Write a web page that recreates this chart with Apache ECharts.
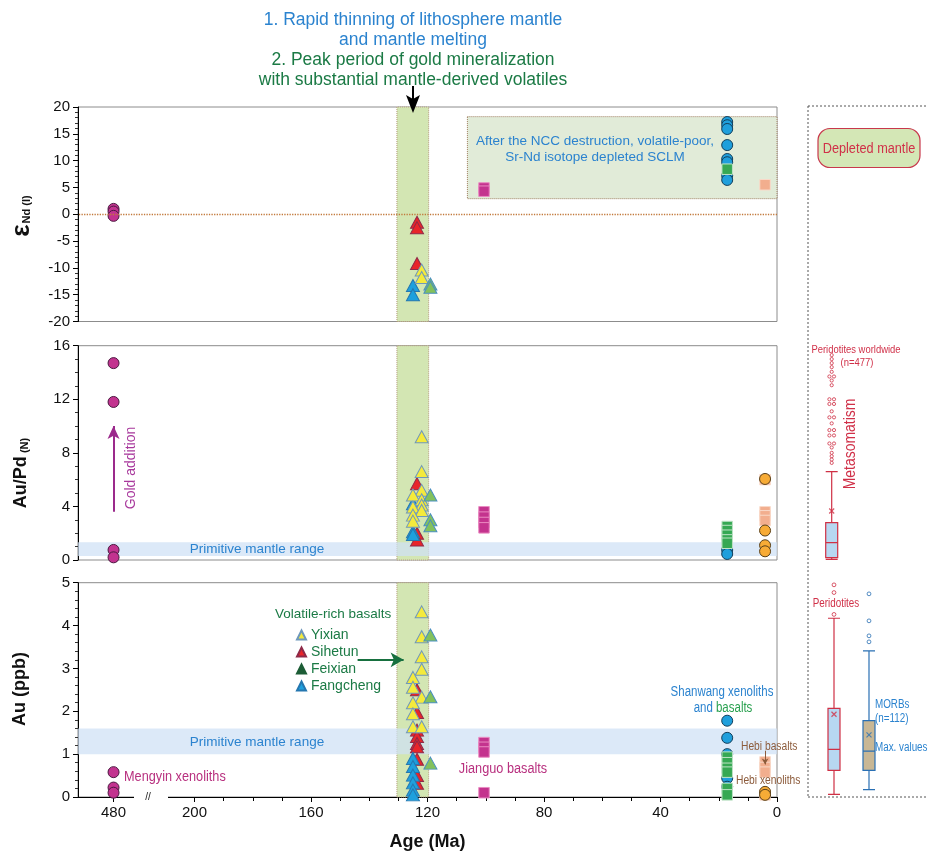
<!DOCTYPE html>
<html><head><meta charset="utf-8">
<script src="https://cdn.jsdelivr.net/npm/echarts@6/dist/echarts.min.js"></script>
<style>html,body{margin:0;padding:0;background:#fff}#c{width:928px;height:853px}</style>
</head><body><div id="c"></div>
<script>
// ---------------- DATA ----------------
const ageTicks = [0, 40, 80, 120, 160, 200, 480];
const ageMinorTicks = [10, 20, 30, 50, 60, 70, 90, 100, 110, 130, 140, 150, 170, 180, 190];
const AGE_MENGYIN = 480, AGE_JIANGUO = 100.6, AGE_SHANWANG = 17.1, AGE_HEBI = 4.1;
const peakPeriod = [130.5, 119.6];          // Ma, green band
const nccBox = { ageFrom: 106.3, ageTo: 0, ndFrom: 2.9, ndTo: 18.2 };
const pmAuPd = [0.3, 1.32];                 // primitive mantle range Au/Pd(N)
const pmAu = [1.0, 1.6];                    // primitive mantle range Au ppb

// eNd(I)
const mengyinNd = [1.0, 0.5, -0.3];
const jianguoNd = [4.9, 4.3];
const shanwangBasaltNd = [8.4];
const shanwangXenoNd = [17.2, 16.6, 15.9, 12.9, 10.3, 9.7, 7.2, 6.4];
const hebiBasaltNd = [5.5];
const hebiXenoNd = [];
const sihetunNd = [[123.6, -1.5], [123.6, -2.5], [123.6, -9.2]];
const fangchengNd = [[125, -13.3], [125, -15.0]];
const yixianNd = [[122, -10.4], [122, -11.8]];
const feixianNd = [[119, -13.0], [119, -13.6]];

// Au/Pd(N)
const mengyinAuPd = [14.7, 11.8, 0.75, 0.2];
const jianguoAuPd = [3.6, 3.2, 2.8, 2.4];
const shanwangBasaltAuPd = [2.5, 2.2, 1.85, 1.5, 1.25];
const shanwangXenoAuPd = [0.75, 0.45];
const hebiBasaltAuPd = [6.0, 3.6, 3.3, 2.95];
const hebiXenoAuPd = [6.05, 2.2, 1.1, 0.65];
const sihetunAuPd = [[123.6, 5.7], [123.6, 2.0], [123.6, 1.5]];
const fangchengAuPd = [[125, 4.2], [125, 2.1], [125, 1.9]];
const yixianAuPd = [[122, 9.2], [122, 6.6], [122, 5.2], [125, 4.85], [122, 4.5], [122, 4.1], [125, 3.95], [122, 3.7], [125, 3.35], [125, 2.9]];
const feixianAuPd = [[119, 4.85], [119, 3.0], [119, 2.55]];

// Au ppb
const mengyinAu = [0.58, 0.22, 0.1];
const jianguoAu = [1.27, 1.16, 1.05, 0.1];
const shanwangBasaltAu = [0.93, 0.8, 0.67, 0.58, 0.2, 0.05];
const shanwangXenoAu = [1.78, 1.38, 1.0, 0.44, 0.24];
const hebiBasaltAu = [0.82, 0.69, 0.58, 0.05];
const hebiXenoAu = [0.12, 0.05];
const sihetunAu = [[123.6, 2.5], [123.6, 1.97], [123.6, 1.56], [123.6, 1.41], [123.6, 1.25], [123.6, 1.17], [123.6, 0.88], [123.6, 0.5], [123.6, 0.32]];
const fangchengAu = [[125, 0.9], [125, 0.71], [125, 0.51], [125, 0.33], [125, 0.16], [125, 0.05]];
const yixianAu = [[122, 4.32], [122, 3.74], [122, 3.27], [122, 2.98], [125, 2.79], [125, 2.56], [122, 2.33], [125, 2.2], [125, 1.94], [125, 1.64], [122, 1.64]];
const feixianAu = [[119, 3.78], [119, 2.34], [119, 0.79]];

// Box plots: [min, Q1, median, Q3, max], mean, outliers
const periAuPdBox = [0.05, 0.17, 1.29, 2.79, 6.6];
const periAuPdMean = 3.66;
const periAuPdOutliers = [15.3, 15.0, 14.7, 14.4, 14.05, 13.4, 13.05, 11.1, 10.2, 8.4, 8.0, 7.75, 7.5, 7.25];
const periAuPdOutlierPairs = [13.7, 12.0, 11.65, 10.65, 9.7, 9.3, 8.7];
const periAuBox = [0.06, 0.62, 1.11, 2.07, 4.17];
const periAuMean = 1.93;
const periAuOutliers = [4.95, 4.77, 4.26];
const morbAuBox = [0.17, 0.62, 1.07, 1.78, 3.41];
const morbAuMean = 1.45;
const morbAuOutliers = [4.74, 4.11, 3.76, 3.62];

// -------------- helpers --------------
const BREAK_SHIFT = 252.2;           // broken age axis: 480 Ma drawn left of the break
const ax = a => (a > 300 ? a - BREAK_SHIFT : a);
const F = '"Liberation Sans", Arial, Helvetica, sans-serif';
const NARROW = 0.82;                 // horizontal squeeze to mimic a narrow face

const C = {
  mengyin: ['#c2338f', '#4a1840'],
  jianguo: ['#c4338e', '#ea8cc2'],
  swBasalt: ['#36a853', '#bfe3c6'],
  swXeno: ['#1f9fdc', '#123e5a'],
  hebiBasalt: ['#f2ae8e', '#f9d9c8'],
  hebiXeno: ['#f7ab36', '#5a4018'],
  sihetun: ['#e8252a', '#8e2a48'],
  fangcheng: ['#1ea0dd', '#2577b0'],
  yixian: ['#f4ea3c', '#6f98bb'],
  feixian: ['#83c15c', '#4a8fc0']
};

const GRIDS = [
  { left: 78, width: 699, top: 107, height: 214.5 },
  { left: 78, width: 699, top: 345.7, height: 214.3 },
  { left: 78, width: 699, top: 582.7, height: 214.3 }
];

function fixed(age, vals) { return vals.map(v => [ax(age), v]); }
function pairs(arr) { return arr.map(p => [ax(p[0]), p[1]]); }

function sc(name, gi, data, symbol, size, col, z) {
  return {
    type: 'scatter', name, xAxisIndex: gi, yAxisIndex: gi, data, symbol, symbolSize: size,
    itemStyle: { color: col[0], borderColor: col[1], borderWidth: 1, opacity: 1 },
    z: z || 3, silent: true
  };
}

const TRI = [13, 12];
function panelSeries(gi, d) {
  return [
    sc('Mengyin', gi, fixed(AGE_MENGYIN, d.mengyin), 'circle', 11, C.mengyin),
    sc('Jianguo', gi, fixed(AGE_JIANGUO, d.jianguo), 'rect', 10.5, C.jianguo),
    sc('Hebi basalts', gi, fixed(AGE_HEBI, d.hebiBasalt), 'rect', 10.5, C.hebiBasalt),
    sc('Shanwang basalts', gi, fixed(AGE_SHANWANG, d.swBasalt), 'rect', 10.5, C.swBasalt, 4),
    sc('Shanwang xenoliths', gi, fixed(AGE_SHANWANG, d.swXeno), 'circle', 11, C.swXeno, 3),
    sc('Hebi xenoliths', gi, fixed(AGE_HEBI, d.hebiXeno), 'circle', 11, C.hebiXeno, 4),
    sc('Sihetun', gi, pairs(d.sihetun), 'triangle', TRI, C.sihetun, 4),
    sc('Fangcheng', gi, pairs(d.fangcheng), 'triangle', TRI, C.fangcheng, 5),
    sc('Yixian', gi, pairs(d.yixian), 'triangle', TRI, C.yixian, 6),
    sc('Feixian', gi, pairs(d.feixian), 'triangle', TRI, C.feixian, 7)
  ];
}

const greenBand = [{ xAxis: peakPeriod[0], itemStyle: { color: '#d3e6b3', borderColor: '#b39a7c', borderWidth: 1, borderType: 'dotted' } }, { xAxis: peakPeriod[1] }];

function bandSeries(gi, areas, lines) {
  const s = { type: 'scatter', xAxisIndex: gi, yAxisIndex: gi, data: [], z: 1, silent: true,
    markArea: { silent: true, data: areas } };
  if (lines) s.markLine = lines;
  return s;
}

const series = [
  bandSeries(0, [greenBand,
    [{ xAxis: nccBox.ageFrom, yAxis: nccBox.ndTo, itemStyle: { color: '#e1ebd8', borderColor: '#9c7d5e', borderWidth: 1, borderType: 'dotted' } }, { xAxis: nccBox.ageTo, yAxis: nccBox.ndFrom }]
  ], { silent: true, symbol: 'none', label: { show: false },
       lineStyle: { color: '#c27a3c', type: 'dotted', width: 1.3 }, data: [{ yAxis: 0 }] }),
  bandSeries(1, [greenBand,
    [{ yAxis: pmAuPd[1], itemStyle: { color: 'rgba(206,225,245,0.72)' } }, { yAxis: pmAuPd[0] }]
  ], { silent: true, label: { show: false }, symbol: ['none', 'arrow'], symbolSize: [9, 13],
       lineStyle: { color: '#9b2a8c', width: 2, type: 'solid' },
       data: [[{ coord: [ax(AGE_MENGYIN), 3.6] }, { coord: [ax(AGE_MENGYIN), 10.0] }]] }),
  bandSeries(2, [greenBand,
    [{ yAxis: pmAu[1], itemStyle: { color: 'rgba(206,225,245,0.72)' } }, { yAxis: pmAu[0] }]
  ], { silent: true, label: { show: false }, symbol: ['none', 'arrow'], symbolSize: [11, 13],
       data: [
         [{ coord: [144, 3.2], lineStyle: { color: '#17703f', width: 2.2, type: 'solid' } }, { coord: [128.2, 3.2] }],
         [{ coord: [ax(AGE_HEBI), 1.08], lineStyle: { color: '#8c5b3b', width: 1, type: 'solid' }, symbolSize: [5, 6] }, { coord: [ax(AGE_HEBI), 0.76], symbolSize: [5, 6] }]
       ] })
].concat(
  panelSeries(0, { mengyin: mengyinNd, jianguo: jianguoNd, swBasalt: shanwangBasaltNd, swXeno: shanwangXenoNd, hebiBasalt: hebiBasaltNd, hebiXeno: hebiXenoNd, sihetun: sihetunNd, fangcheng: fangchengNd, yixian: yixianNd, feixian: feixianNd }),
  panelSeries(1, { mengyin: mengyinAuPd, jianguo: jianguoAuPd, swBasalt: shanwangBasaltAuPd, swXeno: shanwangXenoAuPd, hebiBasalt: hebiBasaltAuPd, hebiXeno: hebiXenoAuPd, sihetun: sihetunAuPd, fangcheng: fangchengAuPd, yixian: yixianAuPd, feixian: feixianAuPd }),
  panelSeries(2, { mengyin: mengyinAu, jianguo: jianguoAu, swBasalt: shanwangBasaltAu, swXeno: shanwangXenoAu, hebiBasalt: hebiBasaltAu, hebiXeno: hebiXenoAu, sihetun: sihetunAu, fangcheng: fangchengAu, yixian: yixianAu, feixian: feixianAu })
);

// box plots
const RED = '#cf3045', BLUE = '#2a70b4';
const crossPath = 'path://M0,0L10,10M10,0L0,10';
series.push(
  { type: 'boxplot', xAxisIndex: 4, yAxisIndex: 3, boxWidth: [12, 12], silent: true, z: 3,
    data: [{ value: periAuPdBox, itemStyle: { color: '#b7d7f1', borderColor: RED, borderWidth: 1.2 } }] },
  { type: 'scatter', xAxisIndex: 4, yAxisIndex: 3, symbol: 'circle', symbolSize: 3.2, silent: true, z: 4,
    itemStyle: { color: '#fff', borderColor: RED, borderWidth: 1 }, data: periAuPdOutliers.map(v => [0, v]) },
  { type: 'scatter', xAxisIndex: 4, yAxisIndex: 3, symbol: 'circle', symbolSize: 3.2, symbolOffset: [-2.3, 0], silent: true, z: 4,
    itemStyle: { color: '#fff', borderColor: RED, borderWidth: 1 }, data: periAuPdOutlierPairs.map(v => [0, v]) },
  { type: 'scatter', xAxisIndex: 4, yAxisIndex: 3, symbol: 'circle', symbolSize: 3.2, symbolOffset: [2.3, 0], silent: true, z: 4,
    itemStyle: { color: '#fff', borderColor: RED, borderWidth: 1 }, data: periAuPdOutlierPairs.map(v => [0, v]) },
  { type: 'scatter', xAxisIndex: 4, yAxisIndex: 3, symbol: crossPath, symbolSize: 5, silent: true, z: 5,
    itemStyle: { color: 'rgba(0,0,0,0)', borderColor: RED, borderWidth: 1.2 }, data: [[0, periAuPdMean]] },
  { type: 'boxplot', xAxisIndex: 5, yAxisIndex: 4, boxWidth: [11, 12], silent: true, z: 3,
    data: [
      { value: periAuBox, itemStyle: { color: '#b7d7f1', borderColor: RED, borderWidth: 1.2 } },
      { value: morbAuBox, itemStyle: { color: '#c8b795', borderColor: BLUE, borderWidth: 1.2 } }
    ] },
  { type: 'scatter', xAxisIndex: 5, yAxisIndex: 4, symbol: 'circle', symbolSize: 3.8, silent: true, z: 4,
    itemStyle: { color: '#fff', borderColor: RED, borderWidth: 1 }, data: periAuOutliers.map(v => [0, v]) },
  { type: 'scatter', xAxisIndex: 5, yAxisIndex: 4, symbol: 'circle', symbolSize: 3.8, silent: true, z: 4,
    itemStyle: { color: '#fff', borderColor: BLUE, borderWidth: 1 }, data: morbAuOutliers.map(v => [1, v]) },
  { type: 'scatter', xAxisIndex: 5, yAxisIndex: 4, symbol: crossPath, symbolSize: 5, silent: true, z: 5,
    itemStyle: { color: 'rgba(0,0,0,0)', borderColor: RED, borderWidth: 1.2 }, data: [[0, periAuMean]] },
  { type: 'scatter', xAxisIndex: 5, yAxisIndex: 4, symbol: crossPath, symbolSize: 5, silent: true, z: 5,
    itemStyle: { color: 'rgba(0,0,0,0)', borderColor: BLUE, borderWidth: 1.2 }, data: [[1, morbAuMean]] }
);

// -------------- axes --------------
function hiddenX(gi) {
  return { type: 'value', gridIndex: gi, min: 0, max: 240, inverse: true,
    axisLine: { show: false }, axisTick: { show: false }, axisLabel: { show: false }, splitLine: { show: false } };
}
const xAxes = [
  hiddenX(0), hiddenX(1),
  { type: 'value', gridIndex: 2, min: 0, max: 240, inverse: true,
    axisLine: { show: true, onZero: false, lineStyle: { color: '#000', width: 1 } },
    axisTick: { show: true, customValues: ageTicks.map(ax), length: 5, lineStyle: { color: '#000' } },
    axisLabel: { customValues: ageTicks.map(ax), fontSize: 15, color: '#111', fontFamily: F, margin: 8,
      formatter: v => (v > 210 ? String(Math.round(v + BREAK_SHIFT)) : String(Math.round(v))) },
    splitLine: { show: false },
    name: 'Age (Ma)', nameLocation: 'middle', nameGap: 36,
    nameTextStyle: { fontSize: 18, fontWeight: 'bold', color: '#111', fontFamily: F } },
  { type: 'value', gridIndex: 2, min: 0, max: 240, inverse: true,
    axisLine: { show: false }, axisLabel: { show: false }, splitLine: { show: false },
    axisTick: { show: true, inside: true, customValues: ageMinorTicks, length: 4, lineStyle: { color: '#000' } } },
  { type: 'category', gridIndex: 3, data: ['Peridotites worldwide'], show: false },
  { type: 'category', gridIndex: 4, data: ['Peridotites', 'MORBs'], show: false }
];
function yAx(gi, min, max, interval, split) {
  return { type: 'value', gridIndex: gi, min, max, interval,
    axisLine: { show: true, onZero: false, lineStyle: { color: '#000', width: 1 } },
    axisTick: { show: true, length: 5, lineStyle: { color: '#000' } },
    minorTick: { show: true, splitNumber: split, length: 3, lineStyle: { color: '#333' } },
    axisLabel: { fontSize: 15, color: '#111', fontFamily: F, margin: 8 },
    splitLine: { show: false } };
}
const yAxes = [
  yAx(0, -20, 20, 5, 5), yAx(1, 0, 16, 4, 4), yAx(2, 0, 5, 1, 5),
  { type: 'value', gridIndex: 3, min: 0, max: 16, show: false, splitLine: { show: false } },
  { type: 'value', gridIndex: 4, min: 0, max: 5, show: false, splitLine: { show: false } }
];

// -------------- annotations --------------
function txt(x, y, text, o) {
  o = o || {};
  const sx = o.narrow ? NARROW : 1;
  return { type: 'text', x, y, z: 100, rotation: o.rot || 0, scaleX: sx, silent: true,
    style: Object.assign({ text, align: 'center', verticalAlign: 'middle', fontFamily: F, fontSize: 14, fill: '#000' }, o.style) };
}
const BLUE_T = '#2b83cf', GREEN_T = '#1b7a45', MAG_T = '#b8307f', BROWN_T = '#8c5b3b', RED_T = '#d03048';
const graphics = [
  txt(413, 20, '1. Rapid thinning of lithosphere mantle', { style: { fontSize: 17.5, fill: BLUE_T } }),
  txt(413, 40, 'and mantle melting', { style: { fontSize: 17.5, fill: BLUE_T } }),
  txt(413, 60, '2. Peak period of gold mineralization', { style: { fontSize: 17.5, fill: GREEN_T } }),
  txt(413, 80, 'with substantial mantle-derived volatiles', { style: { fontSize: 17.5, fill: GREEN_T } }),
  { type: 'line', z: 100, silent: true, shape: { x1: 413, y1: 86, x2: 413, y2: 100 }, style: { stroke: '#000', lineWidth: 2 } },
  { type: 'polygon', z: 100, silent: true, shape: { points: [[406, 95], [413, 99], [420, 95], [413, 113]] }, style: { fill: '#000' } },
  // y-axis titles
  txt(22, 216, '{e|ε}{s|Nd (I)}', { rot: Math.PI / 2, style: { rich: {
      e: { fontSize: 26, fontWeight: 'bold', fontFamily: F, fill: '#111', verticalAlign: 'middle' },
      s: { fontSize: 11, fontWeight: 'bold', fontFamily: F, fill: '#111', padding: [9, 0, 0, 1] } } } }),
  txt(21, 473, '{a|Au/Pd}{s| (N)}', { rot: Math.PI / 2, style: { rich: {
      a: { fontSize: 18, fontWeight: 'bold', fontFamily: F, fill: '#111' },
      s: { fontSize: 11, fontWeight: 'bold', fontFamily: F, fill: '#111', padding: [7, 0, 0, 0] } } } }),
  txt(20, 689, 'Au (ppb)', { rot: Math.PI / 2, style: { fontSize: 18, fontWeight: 'bold', fill: '#111' } }),
  // top panel box text
  txt(595, 149.5, 'After the NCC destruction, volatile-poor,\nSr-Nd isotope depleted SCLM', { style: { fontSize: 13.5, fill: BLUE_T, lineHeight: 16 } }),
  // middle
  txt(131.5, 468, 'Gold addition', { rot: Math.PI / 2, style: { fontSize: 14, fill: '#a8389c' } }),
  txt(257, 549.5, 'Primitive mantle range', { style: { fontSize: 13.5, fill: BLUE_T } }),
  // bottom
  txt(257, 742, 'Primitive mantle range', { style: { fontSize: 13.5, fill: BLUE_T } }),
  txt(124, 777, 'Mengyin xenoliths', { narrow: true, style: { fontSize: 15.5, fill: MAG_T, align: 'left' } }),
  txt(503, 769, 'Jianguo basalts', { narrow: true, style: { fontSize: 15.5, fill: MAG_T } }),
  txt(275, 614, 'Volatile-rich basalts', { style: { fontSize: 13.5, fill: GREEN_T, align: 'left' } }),
  txt(722, 692, 'Shanwang xenoliths', { narrow: true, style: { fontSize: 14, fill: BLUE_T } }),
  txt(723, 708.5, '{b|and }{g|basalts}', { narrow: true, style: { rich: {
      b: { fontSize: 14, fontFamily: F, fill: BLUE_T }, g: { fontSize: 14, fontFamily: F, fill: '#2aa150' } } } }),
  txt(741, 746.5, 'Hebi basalts', { narrow: true, style: { fontSize: 12.5, fill: BROWN_T, align: 'left' } }),
  txt(736, 780.5, 'Hebi xenoliths', { narrow: true, style: { fontSize: 12.5, fill: BROWN_T, align: 'left' } }),
  // axis break
  { type: 'rect', z: 100, silent: true, shape: { x: 134, y: 794, width: 34, height: 6 }, style: { fill: '#fff' } },
  txt(148, 797, '//', { style: { fontSize: 10, fill: '#222' } }),
  // right side panel
  { type: 'line', z: 100, silent: true, shape: { x1: 808, y1: 106, x2: 808, y2: 797 }, style: { stroke: '#555', lineWidth: 1, lineDash: [2, 2] } },
  { type: 'line', z: 100, silent: true, shape: { x1: 808, y1: 106, x2: 928, y2: 106 }, style: { stroke: '#555', lineWidth: 1, lineDash: [2, 2] } },
  { type: 'line', z: 100, silent: true, shape: { x1: 808, y1: 797, x2: 928, y2: 797 }, style: { stroke: '#555', lineWidth: 1, lineDash: [2, 2] } },
  { type: 'rect', z: 100, silent: true, shape: { x: 818, y: 128.5, width: 102, height: 39, r: 12 }, style: { fill: '#d4e7b6', stroke: '#c8384c', lineWidth: 1.2 } },
  txt(869, 148.5, 'Depleted mantle', { narrow: true, style: { fontSize: 15.5, fill: RED_T } }),
  txt(856, 349.5, 'Peridotites worldwide', { narrow: true, style: { fontSize: 11.5, fill: RED_T } }),
  txt(857, 363, '(n=477)', { narrow: true, style: { fontSize: 11.5, fill: RED_T } }),
  txt(850, 444, 'Metasomatism', { narrow: true, rot: Math.PI / 2, style: { fontSize: 17, fill: RED_T } }),
  txt(836, 604, 'Peridotites', { narrow: true, style: { fontSize: 12, fill: RED_T } }),
  txt(875, 705, 'MORBs', { narrow: true, style: { fontSize: 12, fill: BLUE_T, align: 'left' } }),
  txt(875, 719, '(n=112)', { narrow: true, style: { fontSize: 12, fill: BLUE_T, align: 'left' } }),
  txt(875, 748, 'Max. values', { narrow: true, style: { fontSize: 12, fill: BLUE_T, align: 'left' } })
];

const option = {
  animation: false,
  backgroundColor: '#fff',
  textStyle: { fontFamily: F },
  grid: GRIDS.map(g => Object.assign({ show: true, borderColor: '#8c8c8c', borderWidth: 1, backgroundColor: 'rgba(0,0,0,0)' }, g)).concat([
    { left: 808, width: 47.4, top: 345.7, height: 214.3 },
    { left: 816.5, width: 70, top: 582.7, height: 214.3 }
  ]),
  xAxis: xAxes,
  yAxis: yAxes,
  legend: {
    left: 291, top: 622, orient: 'vertical', icon: 'triangle', itemWidth: 9, itemHeight: 9, itemGap: 1,
    selectedMode: false,
    textStyle: { fontSize: 14, color: GREEN_T, fontFamily: F, lineHeight: 16 },
    data: ['Yixian', 'Sihetun', { name: 'Feixian', itemStyle: { color: '#1c5d36', borderColor: '#1c5d36' } }, 'Fangcheng']
  },
  graphic: graphics,
  series
};
const chart = echarts.init(document.getElementById('c'), null, { renderer: 'canvas' });
chart.setOption(option);
</script></body></html>
